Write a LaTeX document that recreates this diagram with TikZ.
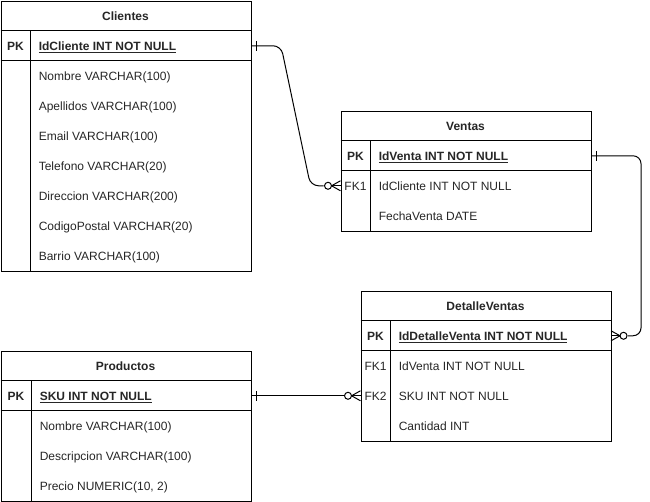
\documentclass[tikz,border=0pt]{standalone}
\usepackage{fontspec}
\setmainfont{Liberation Sans}
\usetikzlibrary{calc}
\tikzset{
  tbl/.style={draw=black, line width=0.75pt, inner sep=0, anchor=north west},
  rowbox/.style={inner sep=0, anchor=north west, minimum height=22.5pt},
  sep/.style={draw=black, line width=0.75pt},
  ttltxt/.style={font=\bfseries\fontsize{9pt}{11pt}\selectfont, inner sep=0, text height=7.2pt, text depth=0pt, text=black!85},
  keytxt/.style={font=\bfseries\fontsize{9pt}{11pt}\selectfont, inner sep=0, text height=7.2pt, text depth=0pt, text=black!85},
  fktxt/.style={font=\fontsize{9pt}{11pt}\selectfont, inner sep=0, text height=7.2pt, text depth=0pt, text=black!85},
  fldtxt/.style={font=\fontsize{9pt}{11pt}\selectfont, anchor=west, inner sep=0, text height=7.2pt, text depth=0pt, text=black!85},
  pktxt/.style={font=\bfseries\fontsize{9pt}{11pt}\selectfont, anchor=west, inner sep=0, text height=7.2pt, text depth=0pt, text=black!85},
  conn/.style={draw=black, line width=0.75pt, rounded corners=6pt},
  tip/.style={draw=black, line width=0.75pt},
}
\newcommand{\ul}[1]{\underline{#1}}
\begin{document}
\begin{tikzpicture}[x=0.75pt,y=-0.75pt]
\useasboundingbox (-0.5,-0.5) rectangle (649.5,500.5);

% ---------------- Clientes ----------------
\node[tbl, minimum width=187.5pt, minimum height=202.5pt] (cli) at (0,0) {};
\draw[sep] (0,30) -- (250,30);
\draw[sep] (0,60) -- (250,60);
\draw[sep] (30,30) -- (30,270);
\node[ttltxt] (cli-t) at (125,15) {Clientes};
\node[rowbox, minimum width=187.5pt] (cli-pk) at (0,30) {};
\node[keytxt] (cli-pk-k) at (15,45) {PK};
\node[pktxt] (cli-pk-f) at (38,45) {\ul{IdCliente INT NOT NULL}};
\node[fldtxt] (cli-1) at (38,75) {Nombre VARCHAR(100)};
\node[fldtxt] (cli-2) at (38,105) {Apellidos VARCHAR(100)};
\node[fldtxt] (cli-3) at (38,135) {Email VARCHAR(100)};
\node[fldtxt] (cli-4) at (38,165) {Telefono VARCHAR(20)};
\node[fldtxt] (cli-5) at (38,195) {Direccion VARCHAR(200)};
\node[fldtxt] (cli-6) at (38,225) {CodigoPostal VARCHAR(20)};
\node[fldtxt] (cli-7) at (38,255) {Barrio VARCHAR(100)};

% ---------------- Ventas ----------------
\node[tbl, minimum width=187.5pt, minimum height=90pt] (ven) at (340,110) {};
\draw[sep] (340,140) -- (590,140);
\draw[sep] (340,170) -- (590,170);
\draw[sep] (370,140) -- (370,230);
\node[ttltxt] (ven-t) at (465,125) {Ventas};
\node[rowbox, minimum width=187.5pt] (ven-pk) at (340,140) {};
\node[rowbox, minimum width=187.5pt] (ven-fk1) at (340,170) {};
\node[keytxt] (ven-pk-k) at (355,155) {PK};
\node[pktxt] (ven-pk-f) at (378,155) {\ul{IdVenta INT NOT NULL}};
\node[fktxt] (ven-fk1-k) at (355,185) {FK1};
\node[fldtxt] (ven-1) at (378,185) {IdCliente INT NOT NULL};
\node[fldtxt] (ven-2) at (378,215) {FechaVenta DATE};

% ---------------- DetalleVentas ----------------
\node[tbl, minimum width=187.5pt, minimum height=112.5pt] (det) at (360,290) {};
\draw[sep] (360,320) -- (610,320);
\draw[sep] (360,350) -- (610,350);
\draw[sep] (390,320) -- (390,440);
\node[ttltxt] (det-t) at (485,305) {DetalleVentas};
\node[rowbox, minimum width=187.5pt] (det-pk) at (360,320) {};
\node[rowbox, minimum width=187.5pt] (det-fk1) at (360,350) {};
\node[rowbox, minimum width=187.5pt] (det-fk2) at (360,380) {};
\node[keytxt] (det-pk-k) at (375,335) {PK};
\node[pktxt] (det-pk-f) at (398,335) {\ul{IdDetalleVenta INT NOT NULL}};
\node[fktxt] (det-fk1-k) at (375,365) {FK1};
\node[fldtxt] (det-1) at (398,365) {IdVenta INT NOT NULL};
\node[fktxt] (det-fk2-k) at (375,395) {FK2};
\node[fldtxt] (det-2) at (398,395) {SKU INT NOT NULL};
\node[fldtxt] (det-3) at (398,425) {Cantidad INT};

% ---------------- Productos ----------------
\node[tbl, minimum width=187.5pt, minimum height=112.5pt] (pro) at (0,350) {};
\draw[sep] (0,380) -- (250,380);
\draw[sep] (0,410) -- (250,410);
\draw[sep] (31,380) -- (31,500);
\node[ttltxt] (pro-t) at (125,365) {Productos};
\node[rowbox, minimum width=187.5pt] (pro-pk) at (0,380) {};
\node[keytxt] (pro-pk-k) at (15.5,395) {PK};
\node[pktxt] (pro-pk-f) at (39,395) {\ul{SKU INT NOT NULL}};
\node[fldtxt] (pro-1) at (39,425) {Nombre VARCHAR(100)};
\node[fldtxt] (pro-2) at (39,455) {Descripcion VARCHAR(100)};
\node[fldtxt] (pro-3) at (39,485) {Precio NUMERIC(10, 2)};

% ---------------- Connectors ----------------
% Clientes -> Ventas
\draw[conn] (cli-pk.east) -- ++(30,0) -- ($(ven-fk1.west)+(-30,0)$) -- ($(ven-fk1.west)+(-17,0)$);
\draw[tip] ($(cli-pk.east)+(5,-5)$) -- ++(0,10);
\draw[tip] ($(ven-fk1.west)+(-12.5,0)$) circle[radius=3.5];
\draw[tip] ($(ven-fk1.west)+(-9,0)$) -- (ven-fk1.west);
\draw[tip] ($(ven-fk1.west)+(-9,0)$) -- ($(ven-fk1.west)+(0,-5)$);
\draw[tip] ($(ven-fk1.west)+(-9,0)$) -- ($(ven-fk1.west)+(0,5)$);

% Ventas -> DetalleVentas
\draw[conn] (ven-pk.east) -- ++(50,0) |- ($(det-pk.east)+(17,0)$);
\draw[tip] ($(ven-pk.east)+(5,-5)$) -- ++(0,10);
\draw[tip] ($(det-pk.east)+(12.5,0)$) circle[radius=3.5];
\draw[tip] ($(det-pk.east)+(9,0)$) -- (det-pk.east);
\draw[tip] ($(det-pk.east)+(9,0)$) -- ($(det-pk.east)+(0,-5)$);
\draw[tip] ($(det-pk.east)+(9,0)$) -- ($(det-pk.east)+(0,5)$);

% Productos -> DetalleVentas
\draw[conn] (pro-pk.east) -- ($(det-fk2.west)+(-17,0)$);
\draw[tip] ($(pro-pk.east)+(5,-5)$) -- ++(0,10);
\draw[tip] ($(det-fk2.west)+(-12.5,0)$) circle[radius=3.5];
\draw[tip] ($(det-fk2.west)+(-9,0)$) -- (det-fk2.west);
\draw[tip] ($(det-fk2.west)+(-9,0)$) -- ($(det-fk2.west)+(0,-5)$);
\draw[tip] ($(det-fk2.west)+(-9,0)$) -- ($(det-fk2.west)+(0,5)$);
\end{tikzpicture}
\end{document}
